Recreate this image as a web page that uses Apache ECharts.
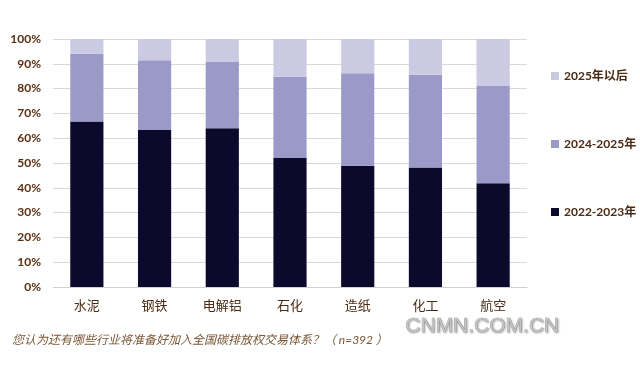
<!DOCTYPE html>
<html><head><meta charset="utf-8">
<script src="https://cdn.jsdelivr.net/npm/echarts@6/dist/echarts.min.js"></script>
<style>html,body{margin:0;padding:0;background:#fff}#c{width:640px;height:365px}</style>
</head><body><div id="c"></div>
<script>
const categories = ['水泥','钢铁','电解铝','石化','造纸','化工','航空'];
const s2022 = [66.7, 63.3, 64.0, 52.0, 48.9, 48.2, 41.8];
const s2024 = [27.4, 28.1, 26.9, 32.8, 37.3, 37.4, 39.4];
const s2025 = [5.9, 8.6, 9.1, 15.2, 13.8, 14.4, 18.8];
const yTicks = [0,10,20,30,40,50,60,70,80,90,100];
const seriesNames = ['2022-2023年','2024-2025年','2025年以后'];
const footnote = '您认为还有哪些行业将准备好加入全国碳排放权交易体系？（ n=392 ）';

const font = 'Lato, "Noto Sans CJK SC", sans-serif';
const chart = echarts.init(document.getElementById('c'));
chart.setOption({
  animation: false,
  grid: {left: 53, right: 113, top: 39, bottom: 78},
  legend: {
    orient: 'vertical', left: 546, top: 65,
    data: [seriesNames[2], seriesNames[1], seriesNames[0]],
    itemWidth: 8, itemHeight: 8, itemGap: 56, icon: 'rect',
    textStyle: {color: '#4a2a12', fontSize: 12, fontWeight: 'bold', fontFamily: font}
  },
  xAxis: {
    type: 'category', data: categories,
    axisLine: {lineStyle: {color: '#d0d0d0'}},
    axisTick: {show: false},
    axisLabel: {color: '#4a2a12', fontSize: 13, margin: 12, fontFamily: font}
  },
  yAxis: {
    type: 'value', min: 0, max: 100, interval: 10,
    axisLabel: {formatter: v => yTicks.includes(v) ? v + '%' : '', color: '#5a2e10', fontSize: 12, fontWeight: 'bold', margin: 12, fontFamily: font},
    splitLine: {lineStyle: {color: '#d9d9d9', width: 1}},
    axisLine: {show: false}, axisTick: {show: false}
  },
  series: [
    {name: seriesNames[0], type: 'bar', stack: 'a', data: s2022, barWidth: '49%', itemStyle: {color: '#0b0a2c'}},
    {name: seriesNames[1], type: 'bar', stack: 'a', data: s2024, itemStyle: {color: '#9b99c8'}},
    {name: seriesNames[2], type: 'bar', stack: 'a', data: s2025, itemStyle: {color: '#cbcae2'}}
  ],
  graphic: [
    {type: 'text', left: 12, top: 334, style: {text: footnote, fill: '#7a5635', fontSize: 12, fontStyle: 'italic', fontFamily: font}},
    {type: 'text', left: 405, top: 315, style: {text: 'CNMN.COM.CN', fill: '#c4c4c4', fontSize: 21, fontFamily: 'Liberation Sans, Arial, sans-serif', stroke: '#8f8f8f', lineWidth: 0.6, textShadowColor: 'rgba(0,0,0,0.25)', textShadowBlur: 2, textShadowOffsetX: 1, textShadowOffsetY: 1}}
  ]
});
</script></body></html>
